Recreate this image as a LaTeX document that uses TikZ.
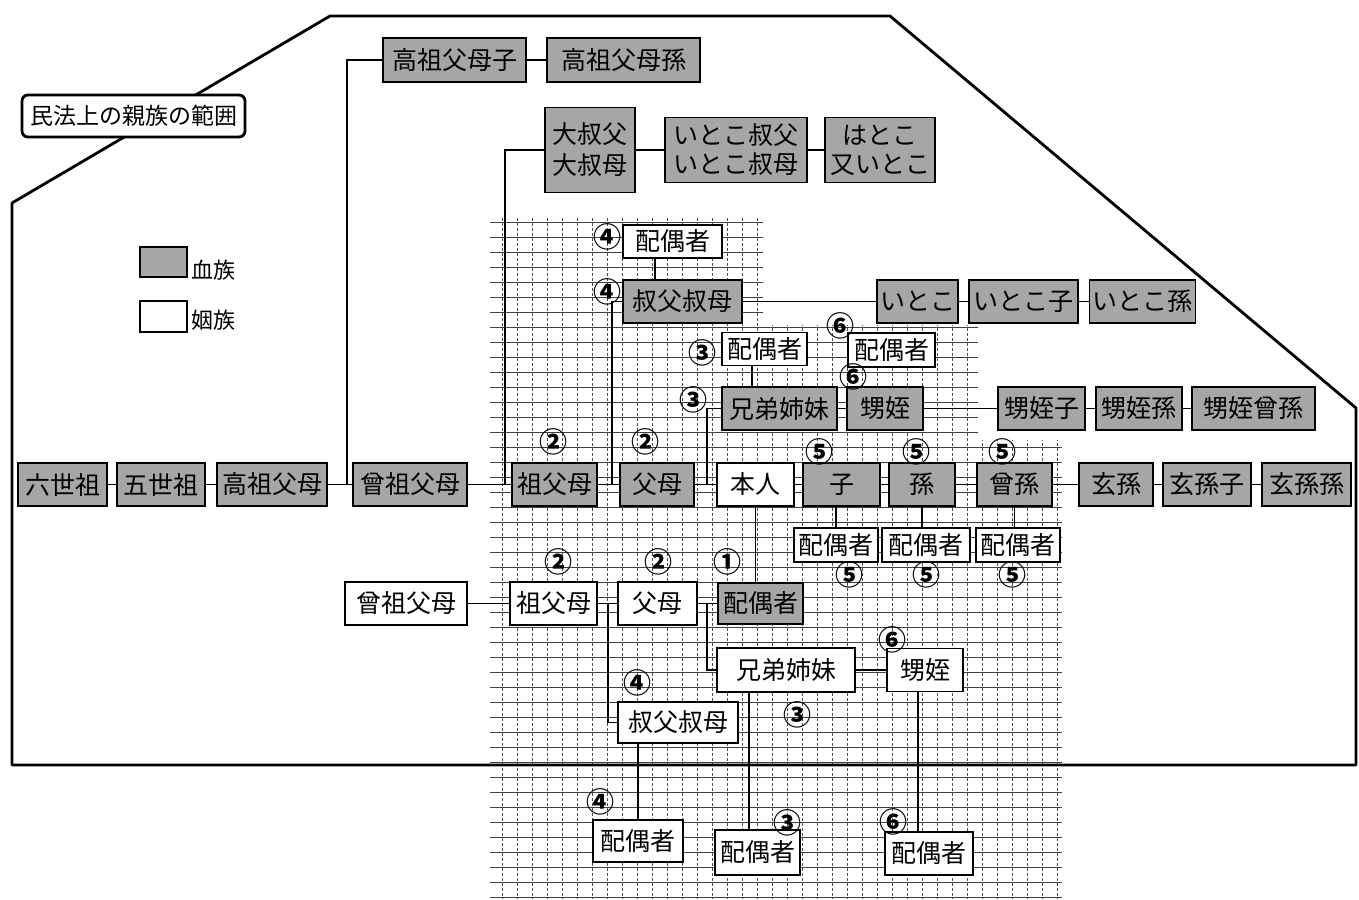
\documentclass[tikz,border=0pt]{standalone}
\usepackage{fontspec}
\newfontfamily\jp{Noto Sans CJK JP}
\usetikzlibrary{calc}
\begin{document}
\begin{tikzpicture}[x=1pt, y=-1pt,
	box/.style={draw, line width=1.6pt, inner xsep=3pt, inner ysep=0pt, minimum height=43, align=center, font=\jp\fontsize{25}{29}\selectfont},
	ketsu/.style={box, fill=black!35},
	inzoku/.style={box, fill=white},
	num/.style={inner sep=0pt, font=\jp\bfseries\fontsize{28}{28}\selectfont},
	link/.style={line width=1.6pt},
	gridh/.style={black!75, line width=0.8pt},
	gridv/.style={black!70, line width=0.7pt, dash pattern=on 3pt off 2pt}]

	\useasboundingbox (0,0) rectangle (1359,899);

	% graph paper
	\begin{scope}
	    \clip (490,218) -- (763,218) -- (763,325) -- (978,325) -- (978,440) -- (1062,440) -- (1062,899) -- (490,899) -- cycle;
	    \foreach \y in {222,237,...,897}
		\draw[gridh] (490,\y) -- (1062,\y);
	    \foreach \x in {502,517,...,1060}
		\draw[gridv] (\x,218) -- (\x,899);
	\end{scope}

	% range
	\draw[line width=2.8pt, line join=round] (12,765) -- (12,203) -- (330,16) -- (890,16) -- (1356,408) -- (1356,765) -- cycle;
	\node[draw, line width=2.8pt, rounded corners=6pt, fill=white, minimum width=223, minimum height=42, inner sep=2pt, font=\jp\fontsize{23}{23}\selectfont] (title) at (133.5,116) {民法上の親族の範囲};

	% legend
	\node[ketsu, minimum width=47, minimum height=30] (legk) at (163.5,262) {};
	\node[inzoku, minimum width=47, minimum height=31] (legi) at (163.5,316.5) {};
	\node[inner sep=0pt, font=\jp\fontsize{22}{22}\selectfont] (legktxt) at (213,270) {血族};
	\node[inner sep=0pt, font=\jp\fontsize{22}{22}\selectfont] (legitxt) at (213,320) {姻族};

	% main row
	\foreach \nm/\txt/\x/\w in {rokuseiso/六世祖/62.5/89, goseiso/五世祖/161/88, kosofubo/高祖父母/272/110, sosofubo/曾祖父母/410/114, sofubo/祖父母/554.5/85, fubo/父母/657/74, ko/子/841.5/77, mago/孫/922/66, himago/曾孫/1014.5/75, genson/玄孫/1116/74, gensonko/玄孫子/1207/88, gensonmago/玄孫孫/1306.5/89}
		\node[ketsu, minimum width=\w] (\nm) at (\x,484.5) {\txt};
	\node[inzoku, line width=2.6pt, minimum width=77] (honnin) at (755.5,484.5) {本人};

	% collateral, upper
	\node[ketsu, minimum width=143, minimum height=44] (kosoko) at (454.5,60) {高祖父母子};
	\node[ketsu, minimum width=153, minimum height=44] (kosomago) at (623.5,60) {高祖父母孫};
	\node[ketsu, minimum width=90, minimum height=85, font=\jp\fontsize{25}{31}\selectfont] (ooji) at (590,150) {大叔父\\大叔母};
	\node[ketsu, minimum width=142, minimum height=65] (itokooji) at (736,150) {いとこ叔父\\いとこ叔母};
	\node[ketsu, minimum width=110, minimum height=65] (hatoko) at (880,150) {はとこ\\又いとこ};

	\node[inzoku, minimum width=99, minimum height=33] (haiguoji) at (672.5,241.5) {配偶者};
	\node[ketsu, minimum width=119] (oji) at (682.5,301.5) {叔父叔母};
	\node[ketsu, minimum width=75] (itoko) at (917.5,301.5) {いとこ};
	\node[ketsu, minimum width=109] (itokoko) at (1023.5,301.5) {いとこ子};
	\node[ketsu, minimum width=105] (itokomago) at (1142.5,301.5) {いとこ孫};

	\node[inzoku, minimum width=85, minimum height=33] (haigukyodai) at (764.5,349) {配偶者};
	\node[inzoku, minimum width=87, minimum height=34] (haiguoi) at (891.5,350) {配偶者};
	\node[ketsu, minimum width=115] (kyodai) at (779.5,408.5) {兄弟姉妹};
	\node[ketsu, minimum width=76] (oi) at (885,408.5) {甥姪};
	\node[ketsu, minimum width=87] (oiko) at (1041.5,408.5) {甥姪子};
	\node[ketsu, minimum width=86] (oimago) at (1139,408.5) {甥姪孫};
	\node[ketsu, minimum width=123] (oihimago) at (1253.5,408.5) {甥姪曾孫};

	\node[inzoku, minimum width=84, minimum height=34] (haiguko) at (836,545) {配偶者};
	\node[inzoku, minimum width=88, minimum height=34] (haigumago) at (926,545) {配偶者};
	\node[inzoku, minimum width=84, minimum height=34] (haiguhimago) at (1018,545) {配偶者};

	% spouse side, lower
	\node[inzoku, minimum width=122] (isosofubo) at (406,603.5) {曾祖父母};
	\node[inzoku, minimum width=87] (isofubo) at (553.5,603.5) {祖父母};
	\node[inzoku, minimum width=79] (ifubo) at (657.5,603.5) {父母};
	\node[ketsu, minimum width=85, minimum height=41] (haigusha) at (760.5,603.5) {配偶者};
	\node[inzoku, minimum width=138, minimum height=44] (ikyodai) at (786,670) {兄弟姉妹};
	\node[inzoku, minimum width=76] (ioi) at (925,670) {甥姪};
	\node[inzoku, minimum width=120, minimum height=41] (ioji) at (678,722.5) {叔父叔母};
	\node[inzoku, minimum width=90, minimum height=42] (ihaiguoji) at (638,841) {配偶者};
	\node[inzoku, minimum width=85, minimum height=45] (ihaigukyodai) at (757.5,852.5) {配偶者};
	\node[inzoku, minimum width=88, minimum height=43] (ihaiguoi) at (929,853.5) {配偶者};

	\coordinate (jA) at (347,484.5);
	\coordinate (jB) at (505,484.5);
	\coordinate (jC) at (612,484.5);
	\coordinate (jD) at (707,484.5);
	\coordinate (jE) at (608,603.5);
	\coordinate (jF) at (707,603.5);

	\foreach \p/\q in {rokuseiso/goseiso, goseiso/kosofubo, kosofubo/sosofubo, sosofubo/sofubo, sofubo/fubo, fubo/honnin, honnin/ko, ko/mago, mago/himago, himago/genson, genson/gensonko, gensonko/gensonmago, kosoko/kosomago, ooji/itokooji, itokooji/hatoko, oji/itoko, itoko/itokoko, itokoko/itokomago, kyodai/oi, oi/oiko, oiko/oimago, oimago/oihimago, isosofubo/isofubo, isofubo/ifubo, ifubo/haigusha, ikyodai/ioi}
		\draw[link] (\p) -- (\q);

	\draw[link] (kosoko.west) -| (jA);
	\draw[link] (ooji.west) -| (jB);
	\draw[link] (oji.west) -| (jC);
	\draw[link] (kyodai.west) -| (jD);
	\draw[link] (jE) |- (ioji.west);
	\draw[link] (jF) |- (ikyodai.west);

	\path ($(haiguoji.south)+(-17.5,0)$) coordinate (c1);
	\draw[link] (c1) -- (c1 |- oji.north);
	\path ($(haigukyodai.south)+(-12.5,0)$) coordinate (c2);
	\draw[link] (c2) -- (c2 |- kyodai.north);
	\draw[link] (haiguko.north) -- (haiguko.north |- ko.south);
	\draw[link] (mago.south) -- (mago.south |- haigumago.north);
	\draw[link] (himago.south) -- (himago.south |- haiguhimago.north);
	\draw[link] (honnin.south) -- (honnin.south |- haigusha.north);
	\draw[link] (ihaiguoji.north) -- (ihaiguoji.north |- ioji.south);
	\path ($(ihaigukyodai.north)+(-8.5,0)$) coordinate (c3);
	\draw[link] (c3) -- (c3 |- ikyodai.south);
	\path ($(ioi.south)+(-7,0)$) coordinate (c4);
	\draw[link] (c4) -- (c4 |- ihaiguoi.north);

	% degrees
	\foreach \d/\x/\y [count=\i] in {④/607/237, ④/607/292, ③/702/353, ③/693/400, ⑥/840/326, ⑥/853/377, ②/553/442, ②/645/442, ⑤/819/452, ⑤/916/452, ⑤/1002/452, ⑤/849/575, ⑤/926/575, ⑤/1012/575, ②/558/562, ②/658/562, ①/727/562, ⑥/892/640, ④/637/683, ③/797/715, ④/600/802, ③/787/823, ⑥/893/822}
		\node[num] (deg\i) at (\x,\y) {\d};
\end{tikzpicture}
\end{document}
